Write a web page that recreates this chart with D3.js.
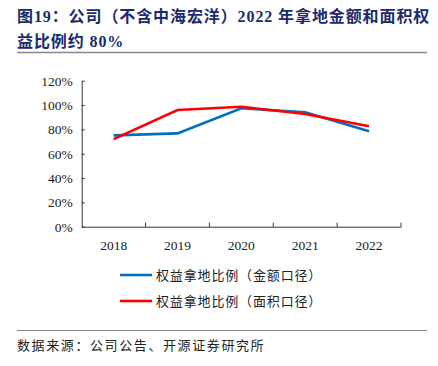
<!DOCTYPE html>
<html>
<head>
<meta charset="utf-8">
<script src="https://cdn.jsdelivr.net/npm/d3@7"></script>
<style>
  body { margin: 0; background: #fff; }
  svg text { font-family: "Liberation Serif", "Noto Sans CJK SC", serif; }
</style>
</head>
<body>
<div class="chart"></div>
<script>
// data
var years = ["2018", "2019", "2020", "2021", "2022"];
var amountRatio = [75.1, 76.7, 97.3, 94.0, 78.4];   // 金额口径
var areaRatio = [72.0, 95.9, 98.6, 92.6, 82.5];     // 面积口径
var yTicks = [0, 20, 40, 60, 80, 100, 120];
var seriesNames = ["权益拿地比例（金额口径）", "权益拿地比例（面积口径）"];
var seriesColors = ["#0070C0", "#FF0000"];

var svgWidth = 438;
var svgHeight = 366;

var margin = { top: 80.7, left: 81.7, right: 37, bottom: 139.3 };
var width = svgWidth - margin.left - margin.right;
var height = svgHeight - margin.top - margin.bottom;

var svg = d3.select(".chart")
    .append("svg")
    .attr("width", svgWidth)
    .attr("height", svgHeight);

// title
var titleColor = "#1B2B6B";
var title = svg.append("g").attr("fill", titleColor)
    .style("font-weight", "bold").style("font-size", "16px")
    .style("letter-spacing", "0.9px");
title.append("text").attr("x", 17).attr("y", 22)
    .text("图19：公司（不含中海宏洋）2022 年拿地金额和面积权");
title.append("text").attr("x", 17).attr("y", 47)
    .text("益比例约 80%");
svg.append("line")
    .attr("x1", 17).attr("x2", 427).attr("y1", 52.5).attr("y2", 52.5)
    .attr("stroke", "#888").attr("stroke-width", 1.6);

var chartGroup = svg.append("g")
    .attr("transform", `translate(${margin.left}, ${margin.top})`);

var xBand = d3.scaleBand().domain(years).range([0, width]);
var yLinearScale = d3.scaleLinear().domain([0, 120]).range([height, 0]);

// axes
var leftAxis = d3.axisLeft(yLinearScale)
    .tickValues(yTicks)
    .tickFormat(d => d + "%")
    .tickSizeInner(-3).tickSizeOuter(0).tickPadding(9);
var yAxisG = chartGroup.append("g").call(leftAxis);

var bottomAxis = d3.axisBottom(xBand).tickSize(0).tickPadding(14);
var xAxisG = chartGroup.append("g")
    .attr("transform", `translate(0, ${height})`)
    .call(bottomAxis);

// ticks at band boundaries, pointing up
var bounds = years.map(y => xBand(y) + xBand.bandwidth());
xAxisG.selectAll(".bound")
    .data(bounds)
    .enter()
    .append("line")
    .attr("x1", d => d).attr("x2", d => d)
    .attr("y1", 0).attr("y2", -4)
    .attr("stroke", "#333");

[yAxisG, xAxisG].forEach(g => {
    g.select(".domain").attr("stroke", "#333");
    g.selectAll("line").attr("stroke", "#333");
    g.selectAll("text")
        .style("font-family", "Liberation Serif, serif")
        .style("font-size", "13.5px")
        .attr("fill", "#222");
});

// lines
var line = d3.line()
    .x((d, i) => xBand(years[i]) + xBand.bandwidth() / 2)
    .y(d => yLinearScale(d));

[amountRatio, areaRatio].forEach((s, i) => {
    chartGroup.append("path")
        .datum(s)
        .attr("d", line)
        .attr("fill", "none")
        .attr("stroke", seriesColors[i])
        .attr("stroke-width", 2.6);
});

// legend
var legend = svg.append("g");
seriesNames.forEach((name, i) => {
    var ly = 275 + i * 26;
    legend.append("line")
        .attr("x1", 120).attr("x2", 152)
        .attr("y1", ly).attr("y2", ly)
        .attr("stroke", seriesColors[i]).attr("stroke-width", 2.6);
    legend.append("text")
        .attr("x", 156).attr("y", ly + 5)
        .style("font-family", "Noto Sans CJK SC")
        .style("font-size", "13px")
        .style("letter-spacing", "0.85px")
        .attr("fill", "#222")
        .text(name);
});

// source
svg.append("line")
    .attr("x1", 17).attr("x2", 427).attr("y1", 330.5).attr("y2", 330.5)
    .attr("stroke", "#888").attr("stroke-width", 1);
svg.append("text")
    .attr("x", 17).attr("y", 350)
    .style("font-family", "Noto Sans CJK SC")
    .style("font-size", "13px")
    .style("letter-spacing", "1.6px")
    .attr("fill", "#222")
    .text("数据来源：公司公告、开源证券研究所");
</script>
</body>
</html>
